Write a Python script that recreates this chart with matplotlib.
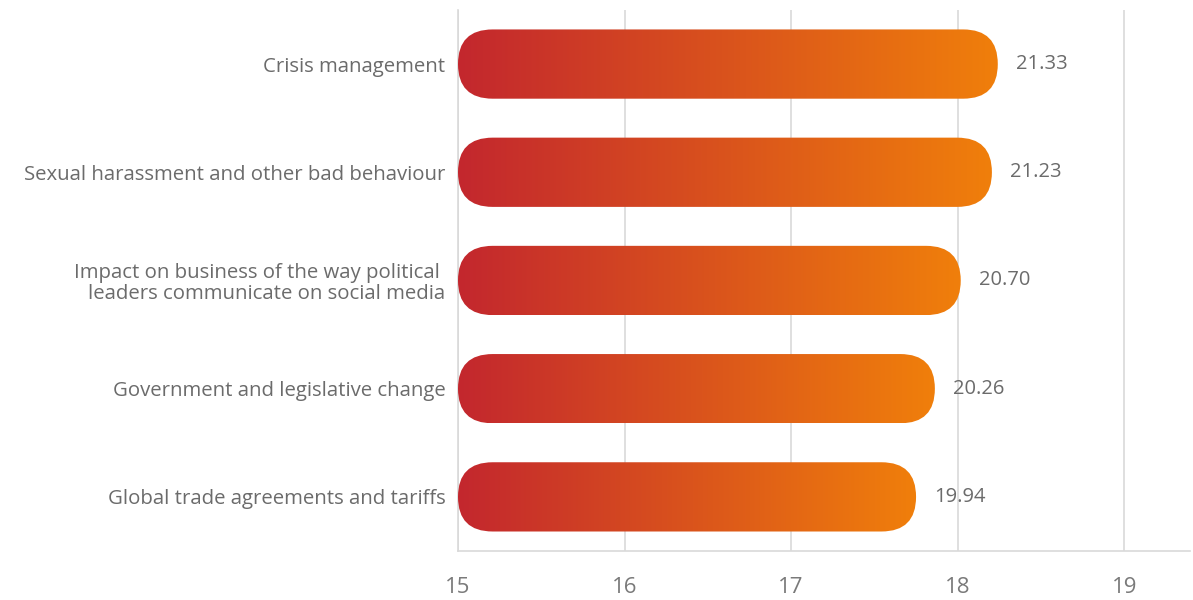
import matplotlib.pyplot as plt
import numpy as np
from matplotlib.colors import LinearSegmentedColormap
from matplotlib.patches import FancyBboxPatch

plt.rcParams['font.family'] = ['Open Sans', 'DejaVu Sans']

categories = [
    'Crisis management',
    'Sexual harassment and other bad behaviour',
    'Impact on business of the way political \nleaders communicate on social media',
    'Government and legislative change',
    'Global trade agreements and tariffs',
]
scores = [21.33, 21.23, 20.70, 20.26, 19.94]
axis_ticks = [15, 16, 17, 18, 19]

grid_col = '#d9d9d9'
text_col = '#6b6b6b'
bar_cmap = LinearSegmentedColormap.from_list('bar', ['#c3272e', '#f07f0b'])

fig = plt.figure(figsize=(11.93, 6), dpi=100)
ax = fig.add_axes([0.3839, 0.0817, 0.6136, 0.9017])

# scale axis with gridlines
ax.set_xlim(15, 19.394)
ax.set_xticks(axis_ticks)
ax.set_xticklabels([str(t) for t in axis_ticks], fontsize=16, color='#7a7a7a')
ax.tick_params(axis='x', length=0, pad=19)
ax.grid(axis='x', color=grid_col, lw=1.2)
ax.set_axisbelow(True)
for side in ['top', 'right']:
    ax.spines[side].set_visible(False)
for side in ['left', 'bottom']:
    ax.spines[side].set_color(grid_col)
    ax.spines[side].set_linewidth(1.2)

ax.set_ylim(4.5, -0.5)
ax.set_yticks(range(len(categories)))
ax.set_yticklabels(categories, fontsize=14.7, color=text_col, linespacing=1.1)
ax.tick_params(axis='y', length=0, pad=9)

# bars on their own value axis
bx = ax.twiny()
base = 12.15
bx.set_xlim(base, base + 732 / 58.8)
bx.axis('off')

fig.canvas.draw()
px_x = bx.transData.transform([(1, 0)])[0][0] - bx.transData.transform([(0, 0)])[0][0]
px_y = abs(bx.transData.transform([(0, 1)])[0][1] - bx.transData.transform([(0, 0)])[0][1])
aspect = px_x / px_y

bar_h = 0.64
radius = (bar_h / 2) / aspect
grad = np.linspace(0, 1, 256).reshape(1, -1)
for i, v in enumerate(scores):
    patch = FancyBboxPatch((base, i - bar_h / 2), v - base, bar_h,
                           boxstyle=f'round,pad=0,rounding_size={radius}',
                           mutation_aspect=aspect, facecolor='none',
                           edgecolor='none', transform=bx.transData)
    bx.add_patch(patch)
    im = bx.imshow(grad, cmap=bar_cmap, aspect='auto', interpolation='bilinear',
                   extent=(base, v, i + bar_h / 2, i - bar_h / 2), zorder=2)
    im.set_clip_path(patch)
    bx.annotate(f'{v:.2f}', xy=(v, i), xytext=(13, 0), textcoords='offset points',
                va='center', ha='left', fontsize=14.5, color=text_col)

bx.set_xlim(base, base + 732 / 58.8)
bx.set_ylim(4.5, -0.5)

fig.savefig('out.png', dpi=100)
